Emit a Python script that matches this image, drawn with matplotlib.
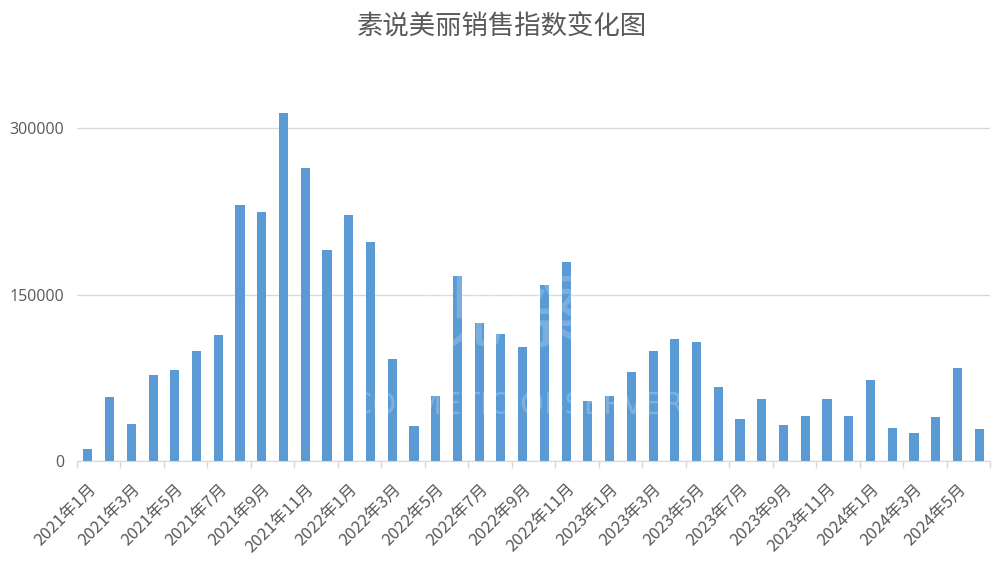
import matplotlib
matplotlib.use("Agg")
import matplotlib.pyplot as plt
from matplotlib.ticker import FixedLocator

plt.rcParams['font.family'] = ['Noto Sans CJK SC', 'DejaVu Sans']

months = [f"{y}年{m}月" for y in (2021, 2022, 2023, 2024) for m in range(1, 13)][:42]
values = [10800, 57700, 33600, 77500, 82000, 99100, 113500, 230600, 224400, 313800, 264000, 190100,
          221600, 197300, 91900, 31500, 58600, 166700, 124300, 114400, 102700, 158600, 179300, 54000,
          58600, 80200, 99100, 110000, 107200, 66700, 37800, 55900, 32400, 40500, 55900, 40500,
          73000, 29700, 25200, 39600, 83800, 28800]
title = "素说美丽销售指数变化图"
yticks = [0, 150000, 300000]

fig = plt.figure(figsize=(10.04, 5.62), dpi=100)
ax = fig.add_axes([0.0767, 0.1797, 0.9094, 0.6913])

x = list(range(len(values)))
ax.bar(x, values, width=0.42, color="#5B9BD5", zorder=2)

ax.set_xlim(-0.5, len(values) - 0.5)
ax.set_ylim(0, 350000)
ax.set_yticks(yticks)
ax.set_yticklabels([str(v) for v in yticks], color="#595959", fontsize=11.5, family=['Open Sans', 'DejaVu Sans'])
ax.yaxis.grid(True, color="#D9D9D9", linewidth=1, zorder=0)
ax.tick_params(axis='y', length=0, pad=9)

label_pos = x[::2]
ax.set_xticks(label_pos)
ax.set_xticklabels([months[i] for i in label_pos], rotation=45, ha='right', rotation_mode='anchor',
                   color="#595959", fontsize=12)
ax.tick_params(axis='x', length=0, pad=14)
ax.xaxis.set_minor_locator(FixedLocator([i - 0.5 for i in range(0, len(values) + 1, 2)]))
ax.tick_params(axis='x', which='minor', length=5, color="#D9D9D9", width=1)

for s in ('top', 'right', 'left'):
    ax.spines[s].set_visible(False)
ax.spines['bottom'].set_color("#D9D9D9")

fig.text(0.5, 0.952, title, ha='center', va='center', fontsize=19, color="#595959")

# faint watermark
fig.text(0.505, 0.615, "化妆品", ha='center', va='center', fontsize=62, color='white', alpha=0.2,
         fontweight='light', zorder=5)
fig.text(0.50, 0.435, "观察", ha='center', va='center', fontsize=62, color='white', alpha=0.2,
         fontweight='light', zorder=5)
fig.text(0.515, 0.278, "COSMETIC OBSERVER", ha='center', va='center', fontsize=22, color='white',
         alpha=0.22, zorder=5, family=['DejaVu Sans Condensed', 'DejaVu Sans'])

fig.savefig("out.png", dpi=100, facecolor='white')
